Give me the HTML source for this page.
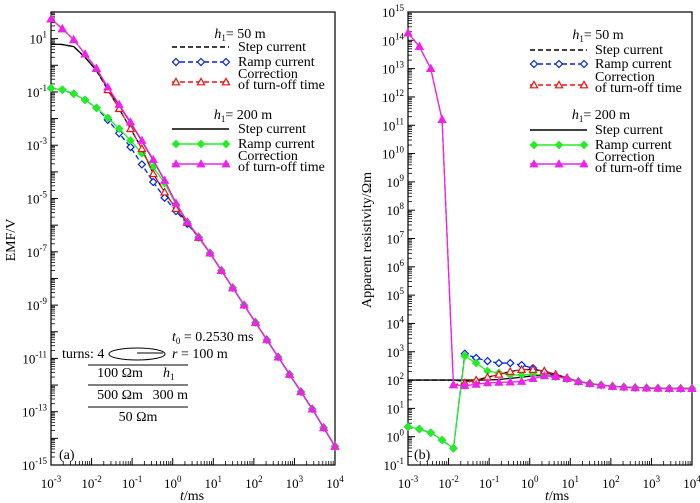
<!DOCTYPE html>
<html><head><meta charset="utf-8"><style>
html,body{margin:0;padding:0;background:#fff;}
svg{display:block;font-family:"Liberation Serif",serif;}
</style></head><body>
<svg id="chart" width="700" height="503" viewBox="0 0 700 503" xmlns="http://www.w3.org/2000/svg">
<g id="pa"></g>
<g id="pb"></g>
</svg>
<script>
const logT=[-3,-2.72,-2.44,-2.16,-1.88,-1.6,-1.32,-1.04,-0.76,-0.48,-0.2,0.08,0.36,0.64,0.92,1.2,1.48,1.76,2.04,2.32,2.6,2.88,3.16,3.44,3.72,4.0];
const emfTail=[-7.05,-7.7,-8.35,-9.0,-9.65,-10.3,-10.95,-11.6,-12.25,-12.9,-13.6,-14.3];
const emfPink=[1.74,1.37,0.96,0.42,-0.12,-0.82,-1.47,-2.13,-2.82,-3.54,-4.32,-5.17,-5.88,-6.44].concat(emfTail);
const emfStep200=[0.8,0.78,0.7,0.3,-0.2,-0.85,-1.5,-2.15,-2.84,-3.56,-4.33,-5.17,-5.88,-6.44].concat(emfTail);
const emfRed=[1.74,1.37,0.96,0.42,-0.12,-0.92,-1.63,-2.38,-3.13,-4.07,-4.76,-5.38,-5.9,-6.46].concat(emfTail);
const emfStep50=[0.8,0.78,0.7,0.3,-0.2,-0.92,-1.63,-2.38,-3.13,-4.07,-4.76,-5.38,-5.9,-6.46].concat(emfTail);
const emfGreen=[-0.86,-0.92,-1.07,-1.3,-1.6,-1.97,-2.38,-2.82,-3.3,-3.82,-4.42,-5.22,-5.88,-6.44].concat(emfTail);
const emfBlue=[-0.86,-0.92,-1.07,-1.3,-1.6,-2.05,-2.55,-3.07,-3.72,-4.38,-4.97,-5.47,-5.95,-6.46].concat(emfTail);
const rhoTail=[1.95,1.88,1.82,1.78,1.75,1.73,1.72,1.71,1.7,1.7,1.7];
const rhoPink=[14.26,13.78,13.0,11.2,1.83,1.8,1.85,1.9,1.92,1.93,1.95,2.05,2.15,2.12,2.05].concat(rhoTail);
const rhoRed=[14.26,13.78,13.0,11.2,1.83,1.9,2.0,2.1,2.2,2.3,2.37,2.37,2.32,2.2,2.08].concat(rhoTail);
const rhoGreen=[0.35,0.27,0.14,-0.12,-0.41,2.85,2.6,2.32,2.25,2.18,2.18,2.2,2.18,2.12,2.05].concat(rhoTail);
const rhoBlue=[0.35,0.27,0.14,-0.12,-0.41,2.93,2.78,2.67,2.6,2.6,2.53,2.42,2.28,2.15,2.05].concat(rhoTail);
const rhoStep50=[2,2,2,2,2,1.95,2.0,2.1,2.2,2.3,2.37,2.37,2.32,2.2,2.08].concat(rhoTail);
const rhoStep200=[2,2,2,2,2,2,2,2,2.02,2.06,2.1,2.15,2.17,2.14,2.05].concat(rhoTail);
const xTicks=[-3,-2,-1,0,1,2,3,4];
const emfTicks=[1,-1,-3,-5,-7,-9,-11,-13,-15];
const rhoTicks=[15,14,13,12,11,10,9,8,7,6,5,4,3,2,1,0,-1];

const NS="http://www.w3.org/2000/svg";
function mk(parent,tag,attrs){const e=document.createElementNS(NS,tag);for(const k in attrs)e.setAttribute(k,attrs[k]);parent.appendChild(e);return e;}
function txt(parent,x,y,s,size,anchor){const t=mk(parent,'text',{x:x,y:y,'font-size':size||14,'text-anchor':anchor||'start',fill:'#000'});t.innerHTML=s;return t;}

function panel(g,P){
  const X=v=>P.x0+(v-(-3))/7*(P.x1-P.x0);
  const Y=v=>P.y1-(v-P.ymin)/(P.ymax-P.ymin)*(P.y1-P.y0);
  const fr=mk(g,'rect',{x:P.x0,y:P.y0,width:P.x1-P.x0,height:P.y1-P.y0,fill:'none',stroke:'#000','stroke-width':1.2});
  
  for(let d=-3;d<=4;d++){
    const x=X(d);mk(g,'line',{x1:x,y1:P.y1,x2:x,y2:P.y1-7,stroke:'#000'});
    if(d<4)for(let m=2;m<10;m++){const xm=X(d+Math.log10(m));mk(g,'line',{x1:xm,y1:P.y1,x2:xm,y2:P.y1-4,stroke:'#000','stroke-width':0.8});}
  }
  xTicks.forEach(d=>{const t=txt(g,X(d),488,'10<tspan dy="-6" font-size="9">'+d+'</tspan>',13,'middle');
    });
  for(let d=P.ymin;d<=P.ymax;d++){
    const y=Y(d);mk(g,'line',{x1:P.x0,y1:y,x2:P.x0+7,y2:y,stroke:'#000'});
    if(d<P.ymax)for(let m=2;m<10;m++){const ym=Y(d+Math.log10(m));mk(g,'line',{x1:P.x0,y1:ym,x2:P.x0+4,y2:ym,stroke:'#000','stroke-width':0.8});}
  }
  P.yt.forEach(d=>{const t=txt(g,P.x0-4,Y(d)+5,'10<tspan dy="-6" font-size="9">'+d+'</tspan>',13,'end');
    });
  return {X,Y};
}
function marker(g,type,x,y,col,fill){
  let e;
  if(type==='d'){e=mk(g,'polygon',{points:`${x},${y-3.5} ${x+3.5},${y} ${x},${y+3.5} ${x-3.5},${y}`,fill:fill?col:'#fff',stroke:col,'stroke-width':1.2});}
  else if(type==='t'){e=mk(g,'polygon',{points:`${x},${y-3.6} ${x+3.6},${y+2.8} ${x-3.6},${y+2.8}`,fill:fill?col:'#fff',stroke:col,'stroke-width':1.2});}
  return e;
}
function series(g,A,vals,col,dash,mt,fill,name){
  const s=mk(g,'g',{});
  
  
  const pts=logT.map((t,i)=>A.X(t)+','+A.Y(vals[i])).join(' ');
  mk(s,'polyline',{points:pts,fill:'none',stroke:col,'stroke-width':1.3,'stroke-dasharray':dash?'5,3':'none'});
  if(mt)logT.forEach((t,i)=>{const m=marker(s,mt,A.X(t),A.Y(vals[i]),col,fill);
    
    });
}
function legend(g,lx,tx,rows){
  rows.forEach(r=>{
    if(r.h){const t=txt(g,r.cx,r.y,'<tspan font-style="italic">h</tspan><tspan font-size="9" dy="3">1</tspan><tspan dy="-3">= '+r.h+'</tspan>',14,'middle');
      return;}
    const e=mk(g,'g',{});
    
    
    const ly=r.ly||r.y-4;
    mk(e,'line',{x1:lx,y1:ly,x2:lx+57,y2:ly,stroke:r.col,'stroke-width':1.4,'stroke-dasharray':r.dash?'5,3':'none'});
    if(r.mt)[lx+4,lx+29,lx+54].forEach(x=>marker(e,r.mt,x,ly,r.col,r.fill));
    txt(e,tx,r.y,r.t,14);
    if(r.t2)txt(e,tx,r.y+11,r.t2,14);
  });
}
const ga=document.getElementById('pa');
const A=panel(ga,{x0:51,x1:335,y0:12,y1:465,ymin:-15,ymax:2,yt:emfTicks});
series(ga,A,emfStep200,'#000',false,null,false,'step-200-line');
series(ga,A,emfStep50,'#000',true,null,false,'step-50-line');
series(ga,A,emfBlue,'#0022ee',true,'d',false,'ramp-50-line');
series(ga,A,emfGreen,'#22ee22',false,'d',true,'ramp-200-line');
series(ga,A,emfRed,'#ee1111',true,'t',false,'correction-50-line');
series(ga,A,emfPink,'#ee22ee',false,'t',true,'correction-200-line');
legend(ga,172,238,[{h:'50 m',cx:240,y:38},{t:'Step current',y:51,col:'#000',dash:true},
 {t:'Ramp current',y:66,col:'#0022ee',dash:true,mt:'d'},{t:'Correction',t2:'of turn-off time',y:78,ly:82,col:'#ee1111',dash:true,mt:'t'},
 {h:'200 m',cx:243,y:119},{t:'Step current',y:133,col:'#000'},{t:'Ramp current',y:148,col:'#22ee22',mt:'d',fill:true},
 {t:'Correction',t2:'of turn-off time',y:160,ly:164,col:'#ee22ee',mt:'t',fill:true}]);
let e;
e=txt(ga,0,0,'EMF/V',14,'middle');e.setAttribute('transform','translate(15,240) rotate(-90)');
e=txt(ga,192,500,'<tspan font-style="italic">t</tspan>/ms',14,'middle');
e=txt(ga,59,459,'(a)',14);
const ins=mk(ga,'g',{});
txt(ins,62,358,'turns: 4',14);
mk(ins,'ellipse',{cx:137,cy:354,rx:28,ry:6,fill:'none',stroke:'#000','stroke-width':1});
mk(ins,'line',{x1:137,y1:353,x2:163,y2:353,stroke:'#000'});
txt(ins,172,341,'<tspan font-style="italic">t</tspan><tspan font-size="9" dy="3">0</tspan><tspan dy="-3"> = 0.2530 ms</tspan>',14);
txt(ins,172,358,'<tspan font-style="italic">r</tspan> = 100 m',14);
[365,385,407].forEach(y=>mk(ins,'line',{x1:88,y1:y,x2:188,y2:y,stroke:'#000'}));
txt(ins,120,377,'100 Ωm',14,'middle');
txt(ins,163,377,'<tspan font-style="italic">h</tspan><tspan font-size="9" dy="3">1</tspan>',14,'start');
txt(ins,120,399,'500 Ωm',14,'middle');
txt(ins,188,399,'300 m',14,'end');
txt(ins,138,421,'50 Ωm',14,'middle');
const gb=document.getElementById('pb');
const B=panel(gb,{x0:408,x1:692,y0:12,y1:465,ymin:-1,ymax:15,yt:rhoTicks});
series(gb,B,rhoStep200,'#000',false,null,false,'step-200-line');
series(gb,B,rhoStep50,'#000',true,null,false,'step-50-line');
series(gb,B,rhoBlue,'#0022ee',true,'d',false,'ramp-50-line');
series(gb,B,rhoGreen,'#22ee22',false,'d',true,'ramp-200-line');
series(gb,B,rhoRed,'#ee1111',true,'t',false,'correction-50-line');
series(gb,B,rhoPink,'#ee22ee',false,'t',true,'correction-200-line');
legend(gb,530,595,[{h:'50 m',cx:598,y:39},{t:'Step current',y:54,col:'#000',dash:true},
 {t:'Ramp current',y:68,col:'#0022ee',dash:true,mt:'d'},{t:'Correction',t2:'of turn-off time',y:81,ly:85,col:'#ee1111',dash:true,mt:'t'},
 {h:'200 m',cx:601,y:119},{t:'Step current',y:134,col:'#000'},{t:'Ramp current',y:149,col:'#22ee22',mt:'d',fill:true},
 {t:'Correction',t2:'of turn-off time',y:161,ly:164,col:'#ee22ee',mt:'t',fill:true}]);
e=txt(gb,0,0,'Apparent resistivity/Ωm',14,'middle');e.setAttribute('transform','translate(371,240) rotate(-90)');
e=txt(gb,557,500,'<tspan font-style="italic">t</tspan>/ms',14,'middle');
e=txt(gb,414,459,'(b)',14);
</script>
</body></html>
